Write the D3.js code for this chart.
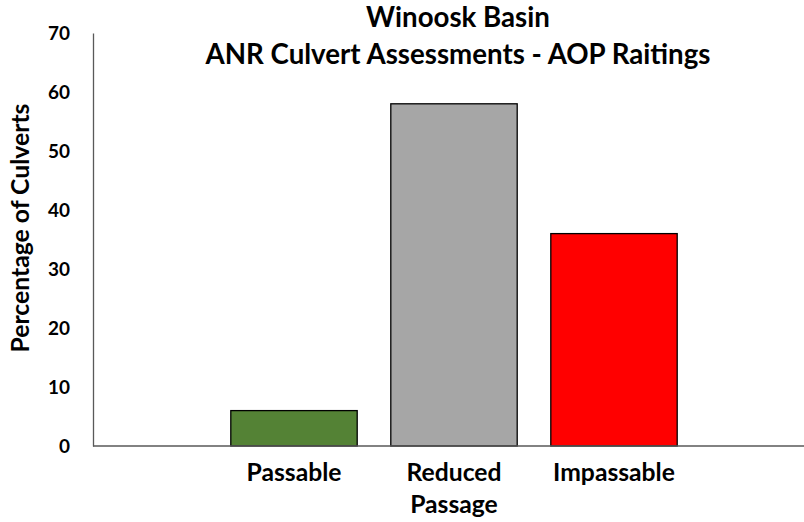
<!DOCTYPE html>
<html>
<head>
<meta charset="utf-8">
<script src="https://cdn.jsdelivr.net/npm/d3@7"></script>
<style>
  html, body { margin: 0; padding: 0; background: #fff; }
  svg { display: block; }
  text { font-family: Lato, "Open Sans", sans-serif; font-weight: bold; fill: #000; }
</style>
</head>
<body>
<svg id="chart" width="804" height="522"></svg>
<script>
const categories = ["Passable", "Reduced Passage", "Impassable"];
const values = [6, 58, 36];
const colors = ["#548235", "#A6A6A6", "#FF0000"];
const yTicks = [0, 10, 20, 30, 40, 50, 60, 70];
const titleLines = ["Winoosk Basin", "ANR Culvert Assessments - AOP Raitings"];
const yTitle = "Percentage of Culverts";

const svg = d3.select("#chart");
const axisLeft = 93, axisRight = 804, y0 = 446, yTop = 33;

function fit(sel, target) {
  const w = sel.node().getComputedTextLength();
  const fs = parseFloat(sel.style("font-size"));
  sel.style("font-size", (fs * target / w).toFixed(2) + "px");
}

const x = d3.scaleBand().domain(categories).range([214, 694]).paddingInner(0.21).paddingOuter(0.105);
const y = d3.scaleLinear().domain([0, 70]).range([y0, yTop]);

// bars
svg.selectAll("rect.bar").data(categories).enter().append("rect")
  .attr("class", "bar")
  .attr("x", d => x(d))
  .attr("width", x.bandwidth())
  .attr("y", (d, i) => y(values[i]))
  .attr("height", (d, i) => y(0) - y(values[i]))
  .attr("fill", (d, i) => colors[i])
  .attr("stroke", "#000")
  .attr("stroke-width", 1.3);

// y axis
const yAxis = d3.axisLeft(y).tickValues(yTicks).tickSize(0).tickPadding(23).tickFormat(d3.format("d"));
const gy = svg.append("g").attr("transform", `translate(${axisLeft},0)`).call(yAxis);
gy.select(".domain").attr("stroke", "#595959").attr("stroke-width", 1.3);
gy.selectAll("text").style("font-size", "16px").style("font-family", "Lato, sans-serif").style("font-weight", "bold").attr("fill", "#000");
const t70 = gy.selectAll("text").filter(d => d === 70);
const tw = t70.node().getComputedTextLength();
gy.selectAll("text").style("font-size", (16 * 22 / tw).toFixed(2) + "px");

// x axis
svg.append("line").attr("x1", axisLeft).attr("x2", axisRight).attr("y1", y0).attr("y2", y0)
  .attr("stroke", "#595959").attr("stroke-width", 1.3);

// x labels
let labelFs = 18;
{
  const probe = svg.append("text").style("font-size", "18px").text(categories[0]);
  labelFs = 18 * 95 / probe.node().getComputedTextLength();
  probe.remove();
}
categories.forEach((c, i) => {
  const words = c === "Reduced Passage" ? ["Reduced", "Passage"] : [c];
  const t = svg.append("text").attr("text-anchor", "middle").style("font-size", labelFs + "px")
    .attr("x", x(c) + x.bandwidth() / 2).attr("y", 481);
  words.forEach((w, j) => t.append("tspan").attr("x", x(c) + x.bandwidth() / 2).attr("dy", j === 0 ? 0 : 32).text(w));
});

// title
const tl = titleLines.map((l, i) => svg.append("text").attr("x", 458).attr("y", 27 + i * 37).attr("text-anchor", "middle")
    .style("font-size", "20px").text(l));
{
  const w = tl[1].node().getComputedTextLength();
  const fs = 20 * 505 / w;
  tl.forEach(t => t.style("font-size", fs + "px"));
}

// y title
const yt = svg.append("text").attr("transform", `translate(29,228) rotate(-90)`).attr("text-anchor", "middle")
  .style("font-size", "18px").text(yTitle);
fit(yt, 249);
</script>
</body>
</html>
